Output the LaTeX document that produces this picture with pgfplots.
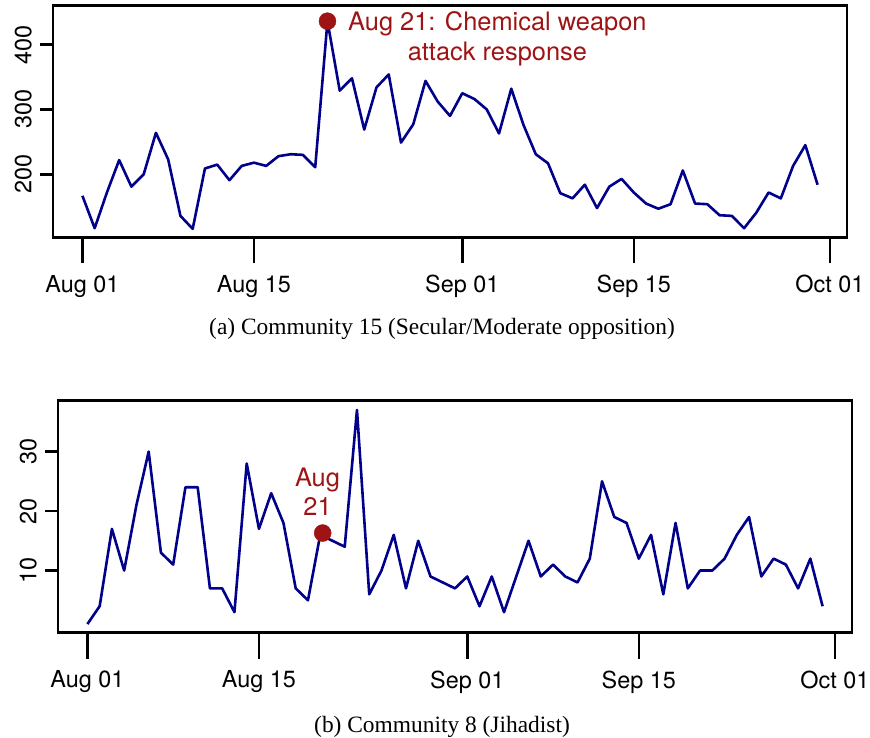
\documentclass[border=0pt]{standalone}
\usepackage{fontspec}
\setmainfont{Liberation Serif}
\newfontfamily\helv{TeX Gyre Heros}
\usepackage{pgfplots}
\pgfplotsset{compat=1.18}
\definecolor{navyline}{RGB}{0,0,139}
\definecolor{annot}{RGB}{158,20,20}

\pgfplotstableread{
day val
0 167
1 117
2 172
3 222
4 181
5 200
6 264
7 223
8 136
9 116
10 209
11 215
12 191
13 213
14 218
15 213
16 228
17 231
18 230
19 211
20 436
21 329
22 348
23 269
24 334
25 354
26 249
27 277
28 344
29 312
30 290
31 325
32 316
33 300
34 263
35 332
36 276
37 231
38 217
39 171
40 163
41 184
42 148
43 181
44 193
45 172
46 155
47 147
48 154
49 206
50 155
51 154
52 137
53 136
54 117
55 141
56 172
57 163
58 213
59 245
60 184
}\commA

\pgfplotstableread{
day val
0 1
1 4
2 17
3 10
4 21
5 30
6 13
7 11
8 24
9 24
10 7
11 7
12 3
13 28
14 17
15 23
16 18
17 7
18 5
19 16
20 15
21 14
22 37
23 6
24 10
25 16
26 7
27 15
28 9
29 8
30 7
31 9
32 4
33 9
34 3
35 9
36 15
37 9
38 11
39 9
40 8
41 12
42 25
43 19
44 18
45 12
46 16
47 6
48 18
49 7
50 10
51 10
52 12
53 16
54 19
55 9
56 12
57 11
58 7
59 12
60 4
}\commB

\pgfplotsset{rstyle/.style={
  scale only axis, width=794bp, height=232bp, xmin=-2.4, xmax=62.4,
  axis line style={line width=2.8bp, black},
  tick align=outside, xtick pos=bottom, ytick pos=left,
  major tick length=26bp,
  every tick/.style={line width=2.6bp, black},
  xtick={0,14,31,45,61}, xticklabels={Aug 01,Aug 15,Sep 01,Sep 15,Oct 01},
  ytick=\empty,
  extra y tick style={major tick length=13bp},
  tick label style={font=\helv\fontsize{23.5}{28}\selectfont, inner sep=0pt},
  xticklabel style={anchor=north}, xticklabel shift=12bp,
  yticklabel style={rotate=90, anchor=south}, yticklabel shift=8bp,
  /pgf/number format/assume math mode=true,
  clip=false,
}}

\begin{document}
\begin{tikzpicture}
\path[use as bounding box] (0,0) rectangle (870bp,738bp);

\begin{axis}[rstyle, at={(53bp,500.7bp)}, anchor=south west,
  ymin=103, ymax=460.5, extra y ticks={200,300,400}]
\addplot[navyline, line width=2.6bp, line join=round, mark=none] table[x=day, y=val] {\commA};
\addplot[only marks, mark=*, mark size=8.5bp, color=annot] coordinates {(20,436)};
\end{axis}

\begin{axis}[rstyle, at={(58bp,105.3bp)}, anchor=south west,
  ymin=-0.45, ymax=38.55, extra y ticks={10,20,30}]
\addplot[navyline, line width=2.6bp, line join=round, mark=none] table[x=day, y=val] {\commB};
\addplot[only marks, mark=*, mark size=8.5bp, color=annot] coordinates {(19.2,16.3)};
\end{axis}

\node[annot, font=\helv\fontsize{25.5}{29.5}\selectfont, align=center, anchor=north west, inner sep=0pt]
  at (348bp,726.5bp) {Aug 21: Chemical weapon\\attack response};
\node[annot, font=\helv\fontsize{25.5}{28.5}\selectfont, align=center, anchor=north, inner sep=0pt]
  at (317.5bp,270bp) {Aug\\21};

\node[anchor=base, font=\fontsize{23.5}{28}\selectfont, inner sep=0pt]
  at (442bp,403bp) {(a) Community 15 (Secular/Moderate opposition)};
\node[anchor=base, font=\fontsize{23.5}{28}\selectfont, inner sep=0pt]
  at (442bp,6bp) {(b) Community 8 (Jihadist)};
\end{tikzpicture}
\end{document}
